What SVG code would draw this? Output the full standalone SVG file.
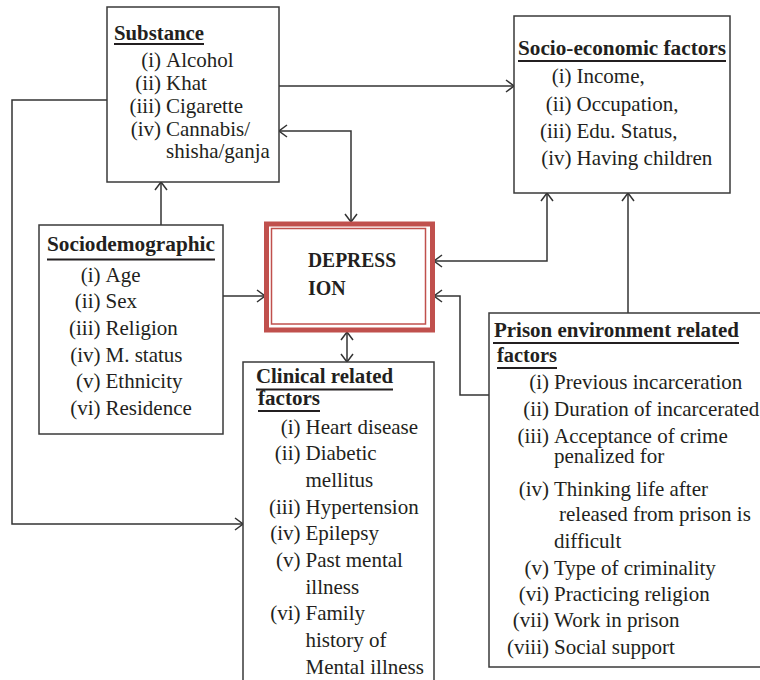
<svg xmlns="http://www.w3.org/2000/svg" width="760" height="680" viewBox="0 0 760 680">
<defs>
<style>
.box{fill:#fff;stroke:#3a3a3a;stroke-width:1.5}
.t{font-family:'Liberation Serif','Times New Roman',Tinos,'DejaVu Serif',serif;font-size:21px;fill:#231f20}
.b{font-weight:bold;font-size:20px}
.n{text-anchor:end}
.ul{stroke:#231f20;stroke-width:2}
.c{fill:none;stroke:#333;stroke-width:1.5}
</style>
<marker id="ah" markerUnits="userSpaceOnUse" markerWidth="10" markerHeight="14" viewBox="0 0 10 14" refX="9" refY="7" orient="auto-start-reverse">
<path d="M1,1 L9,7 L1,13" fill="none" stroke="#333" stroke-width="1.5"/>
</marker>
</defs>
<rect width="760" height="680" fill="#fff"/>

<g id="connectors">
<path class="c" d="M279,86 H514" marker-end="url(#ah)"/>
<path class="c" d="M279,131 H351 V222" marker-start="url(#ah)" marker-end="url(#ah)"/>
<path class="c" d="M107,100 H12 V524 H243" marker-end="url(#ah)"/>
<path class="c" d="M161,225 V182" marker-end="url(#ah)"/>
<path class="c" d="M223,296 H265" marker-end="url(#ah)"/>
<path class="c" d="M347,332 V362" marker-start="url(#ah)" marker-end="url(#ah)"/>
<path class="c" d="M434,261 H547 V193" marker-start="url(#ah)" marker-end="url(#ah)"/>
<path class="c" d="M628,313 V193" marker-end="url(#ah)"/>
<path class="c" d="M489,395 H460 V296 H434" marker-end="url(#ah)"/>
</g>

<g id="substance">
<rect class="box" x="107" y="7" width="172" height="175"/>
<text class="t b" x="114" y="40" textLength="90" lengthAdjust="spacingAndGlyphs">Substance</text>
<line class="ul" x1="114" y1="44" x2="204" y2="44"/>
<text class="t n" x="161" y="67">(i)</text><text class="t" x="166" y="67">Alcohol</text>
<text class="t n" x="161" y="90">(ii)</text><text class="t" x="166" y="90">Khat</text>
<text class="t n" x="161" y="113">(iii)</text><text class="t" x="166" y="113">Cigarette</text>
<text class="t n" x="161" y="136">(iv)</text><text class="t" x="166" y="136">Cannabis/</text>
<text class="t" x="166" y="158">shisha/ganja</text>
</g>

<g id="socioeconomic">
<rect class="box" x="514" y="16" width="216" height="177"/>
<text class="t b" x="518" y="55" textLength="208" lengthAdjust="spacingAndGlyphs">Socio-economic factors</text>
<line class="ul" x1="518" y1="61" x2="726" y2="61"/>
<text class="t n" x="571.5" y="83">(i)</text><text class="t" x="576.5" y="83">Income,</text>
<text class="t n" x="571.5" y="111">(ii)</text><text class="t" x="576.5" y="111">Occupation,</text>
<text class="t n" x="571.5" y="138">(iii)</text><text class="t" x="576.5" y="138">Edu. Status,</text>
<text class="t n" x="571.5" y="165">(iv)</text><text class="t" x="576.5" y="165">Having children</text>
</g>

<g id="sociodemographic">
<rect class="box" x="39" y="225" width="184" height="209"/>
<text class="t b" x="47" y="251" textLength="168" lengthAdjust="spacingAndGlyphs">Sociodemographic</text>
<line class="ul" x1="47" y1="259.5" x2="215" y2="259.5"/>
<text class="t n" x="100.5" y="281.5">(i)</text><text class="t" x="105.5" y="281.5">Age</text>
<text class="t n" x="100.5" y="308">(ii)</text><text class="t" x="105.5" y="308">Sex</text>
<text class="t n" x="100.5" y="335">(iii)</text><text class="t" x="105.5" y="335">Religion</text>
<text class="t n" x="100.5" y="361.5">(iv)</text><text class="t" x="105.5" y="361.5">M. status</text>
<text class="t n" x="100.5" y="388">(v)</text><text class="t" x="105.5" y="388">Ethnicity</text>
<text class="t n" x="100.5" y="415">(vi)</text><text class="t" x="105.5" y="415">Residence</text>
</g>

<g id="depression">
<rect x="266.5" y="224" width="166" height="106" fill="#fff" stroke="#c0504d" stroke-width="5"/>
<rect x="271.5" y="228.5" width="154" height="95.5" fill="none" stroke="#c0504d" stroke-width="1.5"/>
<text class="t b" x="308" y="267" textLength="88" lengthAdjust="spacingAndGlyphs">DEPRESS</text>
<text class="t b" x="308" y="295">ION</text>
</g>

<g id="clinical">
<rect class="box" x="243" y="362" width="191" height="340"/>
<text class="t b" x="256" y="383" textLength="137" lengthAdjust="spacingAndGlyphs">Clinical related</text>
<line class="ul" x1="256" y1="389.5" x2="393" y2="389.5"/>
<text class="t b" x="258" y="405" textLength="62" lengthAdjust="spacingAndGlyphs">factors</text>
<line class="ul" x1="258" y1="411" x2="320" y2="411"/>
<text class="t n" x="300.5" y="433.5">(i)</text><text class="t" x="305.5" y="433.5">Heart disease</text>
<text class="t n" x="300.5" y="460">(ii)</text><text class="t" x="305.5" y="460">Diabetic</text>
<text class="t" x="305.5" y="486.5">mellitus</text>
<text class="t n" x="300.5" y="513.5">(iii)</text><text class="t" x="305.5" y="513.5">Hypertension</text>
<text class="t n" x="300.5" y="540">(iv)</text><text class="t" x="305.5" y="540">Epilepsy</text>
<text class="t n" x="300.5" y="566.5">(v)</text><text class="t" x="305.5" y="566.5">Past mental</text>
<text class="t" x="305.5" y="593.5">illness</text>
<text class="t n" x="300.5" y="620">(vi)</text><text class="t" x="305.5" y="620">Family</text>
<text class="t" x="305.5" y="646.5">history of</text>
<text class="t" x="305.5" y="673.5">Mental illness</text>
</g>

<g id="prison">
<rect class="box" x="489" y="313" width="300" height="354"/>
<text class="t b" x="494" y="336.5" textLength="245" lengthAdjust="spacingAndGlyphs">Prison environment related</text>
<line class="ul" x1="493" y1="343" x2="739" y2="343"/>
<text class="t b" x="497" y="361.5" textLength="60" lengthAdjust="spacingAndGlyphs">factors</text>
<line class="ul" x1="497" y1="368" x2="557" y2="368"/>
<text class="t n" x="549" y="388.5">(i)</text><text class="t" x="554" y="388.5">Previous incarceration</text>
<text class="t n" x="549" y="415.5">(ii)</text><text class="t" x="554" y="415.5">Duration of incarcerated</text>
<text class="t n" x="549" y="442.5">(iii)</text><text class="t" x="554" y="442.5">Acceptance of crime</text>
<text class="t" x="554" y="463">penalized for</text>
<text class="t n" x="549" y="496">(iv)</text><text class="t" x="554" y="496">Thinking life after</text>
<text class="t" x="559" y="521">released from prison is</text>
<text class="t" x="554" y="548">difficult</text>
<text class="t n" x="549" y="575">(v)</text><text class="t" x="554" y="575">Type of criminality</text>
<text class="t n" x="549" y="600.5">(vi)</text><text class="t" x="554" y="600.5">Practicing religion</text>
<text class="t n" x="549" y="627">(vii)</text><text class="t" x="554" y="627">Work in prison</text>
<text class="t n" x="549" y="654">(viii)</text><text class="t" x="554" y="654">Social support</text>
</g>
</svg>
